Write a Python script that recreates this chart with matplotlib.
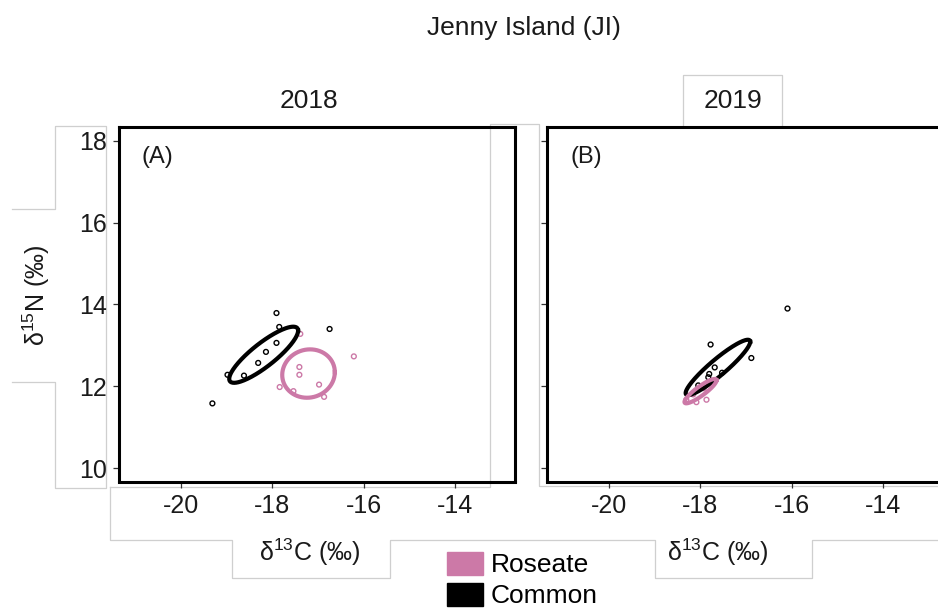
import numpy as np
import matplotlib.pyplot as plt
from matplotlib.lines import Line2D
from matplotlib.patches import Patch

plt.rcParams['font.family'] = ['Liberation Sans', 'DejaVu Sans']
plt.rcParams['mathtext.fontset'] = 'custom'
plt.rcParams['mathtext.rm'] = 'Liberation Sans'

ROSEATE = '#CC79A7'
COMMON = '#000000'

years = ['2018', '2019']
panel_tags = ['(A)', '(B)']
species = ['Roseate', 'Common']

# isotope values (d13C, d15N)
common_2018_c = [-17.91, -17.85, -17.91, -18.14, -18.31, -18.62, -18.98, -19.31, -16.75]
common_2018_n = [13.79, 13.45, 13.06, 12.84, 12.57, 12.26, 12.28, 11.58, 13.40]
roseate_2018_c = [-17.39, -16.22, -17.41, -17.41, -17.84, -17.54, -16.98, -16.87]
roseate_2018_n = [13.28, 12.73, 12.47, 12.28, 11.98, 11.88, 12.04, 11.74]

common_2019_c = [-16.09, -17.77, -16.88, -17.68, -17.52, -17.80, -17.82, -18.04]
common_2019_n = [13.90, 13.02, 12.69, 12.46, 12.33, 12.30, 12.22, 12.02]
roseate_2019_c = [-17.86, -18.08, -18.30, -17.92, -18.15]
roseate_2019_n = [11.67, 11.61, 11.67, 11.95, 11.80]

# standard ellipse: centre and covariance
common_2018_mu = [-18.19, 12.77]
common_2018_cov = [[0.566, 0.443], [0.443, 0.471]]
roseate_2018_mu = [-17.21, 12.31]
roseate_2018_cov = [[0.330, 0.020], [0.020, 0.350]]
common_2019_mu = [-17.61, 12.46]
common_2019_cov = [[0.497, 0.442], [0.442, 0.458]]
roseate_2019_mu = [-17.99, 11.88]
roseate_2019_cov = [[0.123, 0.093], [0.093, 0.089]]

x_ticks = [-20, -18, -16, -14]
y_ticks = [10, 12, 14, 16, 18]


def ellipse_xy(mu, cov, n=200):
    t = np.linspace(0, 2 * np.pi, n)
    L = np.linalg.cholesky(np.array(cov))
    pts = L @ np.vstack([np.cos(t), np.sin(t)])
    return mu[0] + pts[0], mu[1] + pts[1]


W, H = 938, 608
fig = plt.figure(figsize=(W / 100, H / 100), dpi=100)

# faint box outlines left over in the source image
boxes = [
    [(12, 209), (55, 209), (55, 126), (106, 126), (106, 488), (55, 488), (55, 382), (12, 382)],
    [(110, 487), (490, 487), (490, 124), (539, 124), (539, 486), (938, 486)],
    [(110, 487), (110, 540), (232, 540), (232, 578), (390, 578), (390, 540),
     (655, 540), (655, 578), (812, 578), (812, 540), (938, 540)],
    [(683, 127), (683, 75), (782, 75), (782, 127)],
]
for b in boxes:
    xs = [p[0] / W for p in b]
    ys = [1 - p[1] / H for p in b]
    fig.add_artist(Line2D(xs, ys, transform=fig.transFigure, color='#cfcfcf', lw=0.9, zorder=0))

ax_w = 396 / W
ax_h = 354.5 / H
ax_b = 1 - 481.5 / H
axA = fig.add_axes([119 / W, ax_b, ax_w, ax_h])
axB = fig.add_axes([546.7 / W, ax_b, ax_w, ax_h])

panels = [
    (axA, common_2018_c, common_2018_n, roseate_2018_c, roseate_2018_n,
     common_2018_mu, common_2018_cov, roseate_2018_mu, roseate_2018_cov),
    (axB, common_2019_c, common_2019_n, roseate_2019_c, roseate_2019_n,
     common_2019_mu, common_2019_cov, roseate_2019_mu, roseate_2019_cov),
]

for i, (ax, cc, cn, rc, rn, cmu, ccov, rmu, rcov) in enumerate(panels):
    ax.set_facecolor('none')
    ax.scatter(cc, cn, s=12, facecolors='none', edgecolors=COMMON, linewidths=1.0, zorder=3)
    ax.scatter(rc, rn, s=12, facecolors='none', edgecolors=ROSEATE, linewidths=1.0, zorder=3)
    ex, ey = ellipse_xy(cmu, ccov)
    ax.plot(ex, ey, color=COMMON, lw=3.0, zorder=4)
    ex, ey = ellipse_xy(rmu, rcov)
    ax.plot(ex, ey, color=ROSEATE, lw=3.0, zorder=5)

    ax.set_xlim(-21.35, -12.7)
    ax.set_ylim(9.67, 18.34)
    ax.set_xticks(x_ticks)
    ax.set_xticklabels([str(v) for v in x_ticks])
    ax.set_yticks(y_ticks)
    ax.set_yticklabels([str(v) for v in y_ticks] if i == 0 else [])
    ax.tick_params(direction='out', length=4.5, width=0.9, color='#333333',
                   labelsize=18, labelcolor='#1a1a1a', pad=4.5)
    for sp in ax.spines.values():
        sp.set_linewidth(2.2)
        sp.set_color('black')

    ax.text([0.096, 0.101][i], 0.915, panel_tags[i], transform=ax.transAxes,
            fontsize=17, ha='center', va='center', color='#1a1a1a')
    ax.text([0.48, 0.471][i], 1.073, years[i], transform=ax.transAxes,
            fontsize=19, ha='center', va='center', color='#1a1a1a')
    ax.text([0.482, 0.431][i], -0.20, r'δ$^{13}$C (‰)', transform=ax.transAxes,
            fontsize=18, ha='center', va='center', color='#1a1a1a')

axA.text(-0.21, 0.526, r'δ$^{15}$N (‰)', transform=axA.transAxes, rotation=90,
         fontsize=18, ha='center', va='center', color='#1a1a1a')

fig.text(524 / W, 1 - 28 / H, 'Jenny Island (JI)', fontsize=19, ha='center', va='center',
         color='#1a1a1a')

handles = [Patch(facecolor=ROSEATE, edgecolor=ROSEATE), Patch(facecolor=COMMON, edgecolor=COMMON)]
fig.legend(handles, species, loc='center left', bbox_to_anchor=(434 / W, 1 - 580 / H),
           frameon=False, fontsize=19, handlelength=1.35, handleheight=1.0,
           handletextpad=0.3, labelspacing=0.2, borderpad=0)

fig.savefig('out.png', dpi=100)
